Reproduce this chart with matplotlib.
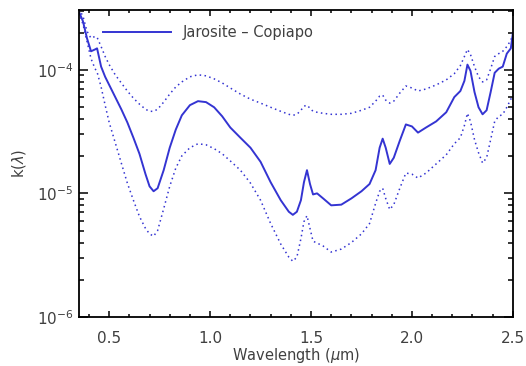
import matplotlib
matplotlib.use("Agg")
import matplotlib.pyplot as plt
from matplotlib.ticker import LogLocator, MultipleLocator, FixedLocator, NullFormatter

# Wavelength grid (micron)
wavelength = [0.35, 0.37, 0.39, 0.41, 0.43, 0.44, 0.46, 0.48, 0.50, 0.53,
              0.56, 0.59, 0.62, 0.65, 0.68, 0.70, 0.72, 0.74, 0.77, 0.80,
              0.83, 0.86, 0.90, 0.94, 0.98, 1.02, 1.06, 1.10, 1.15, 1.20,
              1.25, 1.30, 1.35, 1.39, 1.41, 1.43, 1.45, 1.465, 1.48, 1.495,
              1.51, 1.53, 1.56, 1.60, 1.65, 1.70, 1.75, 1.79, 1.82, 1.84,
              1.855, 1.87, 1.89, 1.91, 1.94, 1.97, 2.00, 2.03, 2.07, 2.12,
              2.17, 2.21, 2.24, 2.26, 2.275, 2.29, 2.31, 2.33, 2.35, 2.37,
              2.39, 2.41, 2.43, 2.45, 2.47, 2.49, 2.50]

# Imaginary index k(lambda), best estimate
k_mean = [2.95e-4, 2.47e-4, 1.80e-4, 1.41e-4, 1.46e-4, 1.49e-4, 1.06e-4, 8.77e-5, 7.54e-5, 6.01e-5,
          4.79e-5, 3.75e-5, 2.82e-5, 2.09e-5, 1.43e-5, 1.14e-5, 1.04e-5, 1.10e-5, 1.54e-5, 2.34e-5,
          3.28e-5, 4.28e-5, 5.17e-5, 5.57e-5, 5.47e-5, 4.97e-5, 4.20e-5, 3.41e-5, 2.82e-5, 2.34e-5,
          1.80e-5, 1.23e-5, 8.8e-6, 7.1e-6, 6.7e-6, 7.1e-6, 8.8e-6, 1.23e-5, 1.54e-5, 1.19e-5,
          9.8e-6, 1.00e-5, 9.1e-6, 8.0e-6, 8.1e-6, 9.1e-6, 1.04e-5, 1.19e-5, 1.54e-5, 2.34e-5,
          2.77e-5, 2.34e-5, 1.73e-5, 1.94e-5, 2.67e-5, 3.61e-5, 3.48e-5, 3.10e-5, 3.41e-5, 3.82e-5,
          4.53e-5, 6.01e-5, 6.73e-5, 8.13e-5, 1.10e-4, 9.8e-5, 6.60e-5, 4.97e-5, 4.36e-5, 4.70e-5,
          6.60e-5, 9.45e-5, 1.02e-4, 1.06e-4, 1.35e-4, 1.49e-4, 1.97e-4]

# Upper bound of k(lambda)
k_upper = [3.10e-4, 2.72e-4, 2.05e-4, 1.80e-4, 1.86e-4, 1.83e-4, 1.54e-4, 1.28e-4, 1.10e-4, 9.1e-5,
           7.82e-5, 6.73e-5, 5.89e-5, 5.27e-5, 4.79e-5, 4.61e-5, 4.61e-5, 4.79e-5, 5.47e-5, 6.36e-5,
           7.26e-5, 7.97e-5, 8.77e-5, 9.1e-5, 8.93e-5, 8.44e-5, 7.82e-5, 7.12e-5, 6.36e-5, 5.78e-5,
           5.37e-5, 4.97e-5, 4.61e-5, 4.36e-5, 4.28e-5, 4.36e-5, 4.70e-5, 5.07e-5, 5.17e-5, 4.88e-5,
           4.61e-5, 4.53e-5, 4.44e-5, 4.36e-5, 4.36e-5, 4.44e-5, 4.70e-5, 4.97e-5, 5.57e-5, 6.12e-5,
           6.24e-5, 5.68e-5, 5.37e-5, 5.57e-5, 6.48e-5, 7.39e-5, 7.12e-5, 6.73e-5, 6.99e-5, 7.54e-5,
           8.28e-5, 9.3e-5, 1.08e-4, 1.28e-4, 1.46e-4, 1.33e-4, 1.06e-4, 8.77e-5, 7.97e-5, 8.28e-5,
           1.02e-4, 1.28e-4, 1.35e-4, 1.41e-4, 1.54e-4, 1.73e-4, 1.94e-4]

# Lower bound of k(lambda)
k_lower = [2.90e-4, 2.34e-4, 1.70e-4, 1.23e-4, 1.02e-4, 9.6e-5, 7.26e-5, 5.17e-5, 3.75e-5, 2.57e-5,
           1.76e-5, 1.21e-5, 8.8e-6, 6.5e-6, 5.2e-6, 4.7e-6, 4.5e-6, 5.0e-6, 7.5e-6, 1.14e-5,
           1.60e-5, 2.01e-5, 2.34e-5, 2.52e-5, 2.47e-5, 2.30e-5, 2.09e-5, 1.83e-5, 1.54e-5, 1.21e-5,
           8.8e-6, 5.7e-6, 3.89e-6, 3.05e-6, 2.82e-6, 3.05e-6, 4.3e-6, 5.9e-6, 6.6e-6, 5.2e-6,
           4.1e-6, 3.96e-6, 3.75e-6, 3.35e-6, 3.54e-6, 4.0e-6, 4.7e-6, 5.7e-6, 8.3e-6, 1.04e-5,
           1.10e-5, 9.1e-6, 7.4e-6, 8.1e-6, 1.10e-5, 1.46e-5, 1.43e-5, 1.33e-5, 1.46e-5, 1.73e-5,
           2.05e-5, 2.52e-5, 2.82e-5, 3.54e-5, 4.44e-5, 3.82e-5, 2.72e-5, 2.13e-5, 1.76e-5, 1.94e-5,
           2.72e-5, 3.82e-5, 4.20e-5, 4.36e-5, 4.97e-5, 5.78e-5, 6.24e-5]

x_ticks = [0.5, 1.0, 1.5, 2.0, 2.5]
x_tick_labels = ["0.5", "1.0", "1.5", "2.0", "2.5"]
y_ticks = [1e-6, 1e-5, 1e-4]
y_tick_labels = [r"$10^{-6}$", r"$10^{-5}$", r"$10^{-4}$"]

line_color = "#3434d2"
text_color = "#404040"

plt.rcParams["font.family"] = ["DejaVu Sans"]
plt.rcParams["mathtext.fontset"] = "dejavusans"

fig = plt.figure(figsize=(5.26, 3.66), dpi=100)
ax = fig.add_axes([0.150, 0.134, 0.825, 0.839])

ax.plot(wavelength, k_mean, color=line_color, lw=1.4, solid_joinstyle="round",
        label="Jarosite \u2013 Copiapo")
ax.plot(wavelength, k_upper, color=line_color, lw=1.1, ls=(0, (1, 2.2)))
ax.plot(wavelength, k_lower, color=line_color, lw=1.1, ls=(0, (1, 2.2)))

ax.set_yscale("log")
ax.set_xlim(0.35, 2.5)
ax.set_ylim(1e-6, 3.05e-4)

ax.xaxis.set_major_locator(FixedLocator(x_ticks))
ax.set_xticklabels(x_tick_labels)
ax.xaxis.set_minor_locator(MultipleLocator(0.1))
ax.yaxis.set_major_locator(FixedLocator(y_ticks))
ax.set_yticklabels(y_tick_labels)
ax.yaxis.set_minor_locator(LogLocator(base=10, subs=range(2, 10)))
ax.yaxis.set_minor_formatter(NullFormatter())

ax.tick_params(which="both", direction="in", top=True, right=True,
               colors="black", labelcolor=text_color, labelsize=11, width=1.1)
ax.tick_params(axis="x", which="major", length=4.5, pad=10)
ax.tick_params(axis="x", which="minor", length=2.5)
ax.tick_params(axis="y", which="major", length=6.5, pad=4)
ax.tick_params(axis="y", which="minor", length=3.8)

for sp in ax.spines.values():
    sp.set_linewidth(1.3)
    sp.set_color("black")

ax.set_xlabel("Wavelength ($\\mu$m)", fontsize=10.5, color=text_color, labelpad=0)
ax.set_ylabel("k($\\lambda$)", fontsize=10.5, color=text_color, labelpad=6)

leg = ax.legend(loc="center left", bbox_to_anchor=(0.055, 0.925), frameon=False,
                fontsize=10.5, handlelength=4.7, handletextpad=0.8,
                borderpad=0, borderaxespad=0)
for t in leg.get_texts():
    t.set_color(text_color)

fig.savefig("out.png", dpi=100)
